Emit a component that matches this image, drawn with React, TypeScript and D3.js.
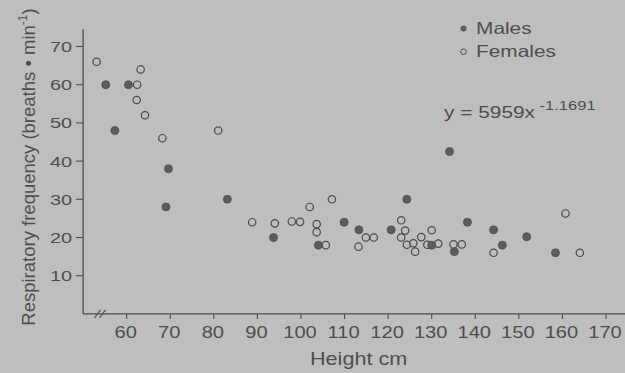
import React, { useEffect, useRef } from "react";
import * as d3 from "d3";

const maleHeight = [55.2, 60.4, 57.3, 69.6, 69.0, 83.1, 93.7, 104.0, 109.9, 113.3, 120.7, 124.3, 130.0, 135.2, 134.1, 138.2, 144.2, 146.2, 151.8, 158.4];
const maleRate = [60, 60, 48, 38, 28, 30, 20, 18, 24, 22, 22, 30, 18, 16.3, 42.5, 24, 22, 18, 20.2, 16];

const femaleHeight = [53.1, 63.2, 62.4, 62.3, 64.2, 68.2, 81.0, 88.8, 94.0, 97.9, 99.8, 102.0, 107.1, 103.6, 103.6, 105.7, 113.2, 114.9, 116.7, 123.0, 123.9, 123.0, 124.3, 125.8, 126.2, 127.6, 130.0, 129.0, 131.5, 135.0, 136.9, 144.2, 160.7, 164.0];
const femaleRate = [66, 64, 60, 56, 52, 46, 48, 24, 23.7, 24.2, 24.1, 28, 30, 23.5, 21.4, 18, 17.6, 20, 20, 24.5, 21.8, 20, 18.1, 18.5, 16.3, 20.1, 21.9, 18.1, 18.4, 18.2, 18.2, 16, 26.3, 16];

const xTicks = [60, 70, 80, 90, 100, 110, 120, 130, 140, 150, 160, 170];
const yTicks = [10, 20, 30, 40, 50, 60, 70];
const legendLabels = ["Males", "Females"];

const W = 625;
const H = 373;
const BG = "#bebebf";
const INK = "#4e4e4e";
const FONT = "'Liberation Sans', Arial, Helvetica, sans-serif";
const STRETCH = 1.28;

export default function App() {
  const ref = useRef<SVGSVGElement>(null);

  useEffect(() => {
    const svg = d3.select(ref.current);
    svg.selectAll("*").remove();

    const x = d3.scaleLinear().domain([50, 170]).range([83.1, 606]);
    const y = d3.scaleLinear().domain([0, 70]).range([313.9, 46.5]);

    svg.append("rect").attr("width", W).attr("height", H).attr("fill", BG);

    const g = svg.append("g").attr("font-family", FONT).attr("fill", INK);

    const addText = (tx: number, ty: number, str: string, size: number, anchor = "start", s = STRETCH) =>
      g.append("text")
        .attr("transform", `translate(${tx},${ty}) scale(${s},1)`)
        .attr("text-anchor", anchor)
        .attr("font-size", size)
        .text(str);

    g.append("line")
      .attr("x1", x(50)).attr("x2", x(50))
      .attr("y1", y(74.5)).attr("y2", y(0))
      .attr("stroke", INK).attr("stroke-width", 1.3);
    g.append("line")
      .attr("x1", x(50)).attr("x2", W)
      .attr("y1", y(0)).attr("y2", y(0))
      .attr("stroke", INK).attr("stroke-width", 1.3);

    // axis break marks
    const bx = x(53.3);
    [0, 5].forEach((dx) => {
      g.append("line")
        .attr("x1", bx + dx - 3).attr("y1", y(0) + 4)
        .attr("x2", bx + dx + 3).attr("y2", y(0) - 4)
        .attr("stroke", INK).attr("stroke-width", 1.1);
    });

    yTicks.forEach((t) => {
      g.append("line")
        .attr("x1", x(50) - 7).attr("x2", x(50))
        .attr("y1", y(t)).attr("y2", y(t))
        .attr("stroke", INK).attr("stroke-width", 1.1);
      addText(x(50) - 11, y(t) + 5.4, String(t), 15, "end", 1.33);
    });

    xTicks.forEach((t) => {
      g.append("line")
        .attr("x1", x(t)).attr("x2", x(t))
        .attr("y1", y(0)).attr("y2", y(0) + 5)
        .attr("stroke", INK).attr("stroke-width", 1.1);
      addText(x(t) - 1, y(0) + 24, String(t), 16.5, "middle", 1.22);
    });

    addText(310, 365, "Height cm", 18, "start", 1.2);

    const yt = g.append("text")
      .attr("transform", "translate(35,167) rotate(-90)")
      .attr("text-anchor", "middle").attr("font-size", 18.5);
    yt.append("tspan").text("Respiratory frequency (breaths \u2022 min");
    yt.append("tspan").attr("dy", -8).attr("font-size", 12).text("-1");
    yt.append("tspan").attr("dy", 8).text(")");

    const pts = svg.append("g");
    pts.selectAll("circle.f")
      .data(d3.range(femaleHeight.length))
      .join("circle")
      .attr("class", "f")
      .attr("cx", (i) => x(femaleHeight[i]))
      .attr("cy", (i) => y(femaleRate[i]))
      .attr("r", 3.7)
      .attr("fill", BG)
      .attr("fill-opacity", 0.6)
      .attr("stroke", "#4a4a4a")
      .attr("stroke-width", 1.2);
    pts.selectAll("circle.m")
      .data(d3.range(maleHeight.length))
      .join("circle")
      .attr("class", "m")
      .attr("cx", (i) => x(maleHeight[i]))
      .attr("cy", (i) => y(maleRate[i]))
      .attr("r", 4)
      .attr("fill", "#5c5c5c")
      .attr("stroke", "#4c4c4c")
      .attr("stroke-width", 0.8);

    legendLabels.forEach((lab, i) => {
      const cy = 28.4 + i * 23.3;
      if (i === 0) {
        g.append("circle").attr("cx", 463.5).attr("cy", cy).attr("r", 3)
          .attr("fill", "#5c5c5c");
      } else {
        g.append("circle").attr("cx", 463.5).attr("cy", cy).attr("r", 2.8)
          .attr("fill", "none").attr("stroke", "#4a4a4a").attr("stroke-width", 1);
      }
      addText(476, cy + 5.3, lab, 16.3);
    });

    addText(444, 118.4, "y = 5959x", 16.3);
    addText(539.5, 110, "-1.1691", 12, "start", 1.38);
  }, []);

  return (
    <div style={{ position: "fixed", left: 0, top: 0, width: W, height: H }}>
      <svg ref={ref} width={W} height={H} style={{ display: "block" }} />
    </div>
  );
}
